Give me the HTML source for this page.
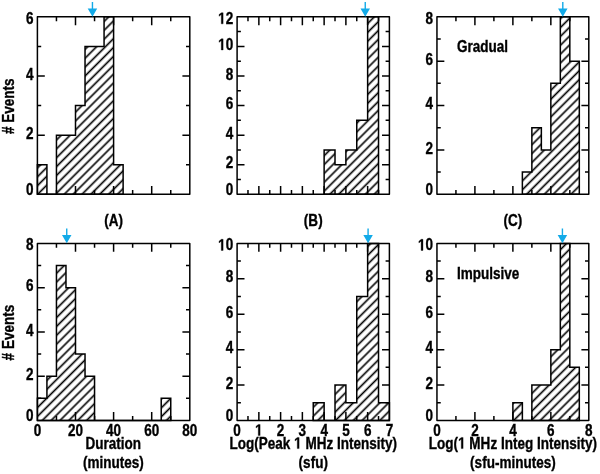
<!DOCTYPE html>
<html><head><meta charset="utf-8"><style>
html,body{margin:0;padding:0;background:#fff;width:600px;height:474px;overflow:hidden}
svg{display:block}
text{font-family:"Liberation Sans",sans-serif;font-weight:bold;fill:#000;stroke:#000;stroke-width:0.35px}
svg{will-change:transform}
.o{fill:transparent;stroke:transparent}
</style></head><body>
<svg width="600" height="474" viewBox="0 0 600 474">
<defs><pattern id="hA" patternUnits="userSpaceOnUse" width="6.27" height="10" patternTransform="rotate(45) translate(-2.15,0)"><line x1="3.14" y1="-1" x2="3.14" y2="11" stroke="#000" stroke-width="1.65"/></pattern><pattern id="hB" patternUnits="userSpaceOnUse" width="6.27" height="10" patternTransform="rotate(45) translate(-2.43,0)"><line x1="3.14" y1="-1" x2="3.14" y2="11" stroke="#000" stroke-width="1.65"/></pattern><pattern id="hC" patternUnits="userSpaceOnUse" width="6.27" height="10" patternTransform="rotate(45) translate(-1.23,0)"><line x1="3.14" y1="-1" x2="3.14" y2="11" stroke="#000" stroke-width="1.65"/></pattern><pattern id="hD" patternUnits="userSpaceOnUse" width="6.27" height="10" patternTransform="rotate(45) translate(-1.97,0)"><line x1="3.14" y1="-1" x2="3.14" y2="11" stroke="#000" stroke-width="1.65"/></pattern><pattern id="hE" patternUnits="userSpaceOnUse" width="6.27" height="10" patternTransform="rotate(45) translate(-1.51,0)"><line x1="3.14" y1="-1" x2="3.14" y2="11" stroke="#000" stroke-width="1.65"/></pattern><pattern id="hF" patternUnits="userSpaceOnUse" width="6.27" height="10" patternTransform="rotate(45) translate(-0.94,0)"><line x1="3.14" y1="-1" x2="3.14" y2="11" stroke="#000" stroke-width="1.65"/></pattern></defs>
<rect width="600" height="474" fill="#fff"/>
<path d="M37.4,194.3 L37.4,164.72 L46.92,164.72 L46.92,194.3 L56.45,194.3 L56.45,135.13 L65.97,135.13 L65.97,135.13 L75.5,135.13 L75.5,105.55 L85.03,105.55 L85.03,46.38 L94.55,46.38 L94.55,46.38 L104.07,46.38 L104.07,16.8 L113.6,16.8 L113.6,164.72 L123.12,164.72 L123.12,194.3 Z" fill="url(#hA)" stroke="none"/>
<path d="M37.4,194.3 L37.4,164.72 L46.92,164.72 L46.92,194.3 L56.45,194.3 L56.45,135.13 L65.97,135.13 L65.97,135.13 L75.5,135.13 L75.5,105.55 L85.03,105.55 L85.03,46.38 L94.55,46.38 L94.55,46.38 L104.07,46.38 L104.07,16.8 L113.6,16.8 L113.6,164.72 L123.12,164.72 L123.12,194.3 Z" fill="none" stroke="#000" stroke-width="1.5" stroke-linejoin="miter"/>
<path d="M56.45,194.3v-4.4M56.45,16.8v4.4M75.5,194.3v-8.4M75.5,16.8v8.4M94.55,194.3v-4.4M94.55,16.8v4.4M113.6,194.3v-8.4M113.6,16.8v8.4M132.65,194.3v-4.4M132.65,16.8v4.4M151.7,194.3v-8.4M151.7,16.8v8.4M170.75,194.3v-4.4M170.75,16.8v4.4M37.4,164.72h3.8M189.8,164.72h-3.8M37.4,135.13h7.4M189.8,135.13h-7.4M37.4,105.55h3.8M189.8,105.55h-3.8M37.4,75.97h7.4M189.8,75.97h-7.4M37.4,46.38h3.8M189.8,46.38h-3.8" stroke="#000" stroke-width="1.5" fill="none"/>
<rect x="37.4" y="16.8" width="152.4" height="177.5" fill="none" stroke="#000" stroke-width="1.5" stroke-linejoin="round"/>
<g transform="translate(33.45,194.77) scale(0.835,1)"><text id="t1" text-anchor="end" font-size="16.2">0</text></g>
<g transform="translate(33.45,138.71) scale(0.835,1)"><text id="t2" text-anchor="end" font-size="16.2">2</text></g>
<g transform="translate(33.45,79.54) scale(0.835,1)"><text id="t3" text-anchor="end" font-size="16.2">4</text></g>
<g transform="translate(33.45,23.87) scale(0.835,1)"><text id="t4" text-anchor="end" font-size="16.2">6</text></g>
<path d="M91.75,2h1.4v6.4h4.05l-4.75,8.3l-4.75,-8.3h4.05z" fill="#12aae8"/>
<path d="M324.13,194.3 L324.13,149.93 L335.01,149.93 L335.01,164.72 L345.89,164.72 L345.89,149.93 L356.76,149.93 L356.76,120.34 L367.64,120.34 L367.64,16.8 L378.52,16.8 L378.52,194.3 Z" fill="url(#hB)" stroke="none"/>
<path d="M324.13,194.3 L324.13,149.93 L335.01,149.93 L335.01,164.72 L345.89,164.72 L345.89,149.93 L356.76,149.93 L356.76,120.34 L367.64,120.34 L367.64,16.8 L378.52,16.8 L378.52,194.3 Z" fill="none" stroke="#000" stroke-width="1.5" stroke-linejoin="miter"/>
<path d="M247.98,194.3v-4.4M247.98,16.8v4.4M258.86,194.3v-8.4M258.86,16.8v8.4M269.74,194.3v-4.4M269.74,16.8v4.4M280.61,194.3v-8.4M280.61,16.8v8.4M291.49,194.3v-4.4M291.49,16.8v4.4M302.37,194.3v-8.4M302.37,16.8v8.4M313.25,194.3v-4.4M313.25,16.8v4.4M324.13,194.3v-8.4M324.13,16.8v8.4M335.01,194.3v-4.4M335.01,16.8v4.4M345.89,194.3v-8.4M345.89,16.8v8.4M356.76,194.3v-4.4M356.76,16.8v4.4M367.64,194.3v-8.4M367.64,16.8v8.4M378.52,194.3v-4.4M378.52,16.8v4.4M237.1,179.51h3.8M389.4,179.51h-3.8M237.1,164.72h7.4M389.4,164.72h-7.4M237.1,149.93h3.8M389.4,149.93h-3.8M237.1,135.13h7.4M389.4,135.13h-7.4M237.1,120.34h3.8M389.4,120.34h-3.8M237.1,105.55h7.4M389.4,105.55h-7.4M237.1,90.76h3.8M389.4,90.76h-3.8M237.1,75.97h7.4M389.4,75.97h-7.4M237.1,61.18h3.8M389.4,61.18h-3.8M237.1,46.38h7.4M389.4,46.38h-7.4M237.1,31.59h3.8M389.4,31.59h-3.8" stroke="#000" stroke-width="1.5" fill="none"/>
<rect x="237.1" y="16.8" width="152.3" height="177.5" fill="none" stroke="#000" stroke-width="1.5" stroke-linejoin="round"/>
<g transform="translate(233.15,194.77) scale(0.835,1)"><text id="t5" text-anchor="end" font-size="16.2">0</text></g>
<g transform="translate(233.15,168.29) scale(0.835,1)"><text id="t6" text-anchor="end" font-size="16.2">2</text></g>
<g transform="translate(233.15,138.71) scale(0.835,1)"><text id="t7" text-anchor="end" font-size="16.2">4</text></g>
<g transform="translate(233.15,109.12) scale(0.835,1)"><text id="t8" text-anchor="end" font-size="16.2">6</text></g>
<g transform="translate(233.15,79.54) scale(0.835,1)"><text id="t9" text-anchor="end" font-size="16.2">8</text></g>
<g transform="translate(233.15,49.96) scale(0.835,1)"><text id="t10" text-anchor="end" font-size="16.2"><tspan class="o">1</tspan>0</text><path transform="translate(-18.013,0) scale(0.007910,-0.007910)" d="M478 0V1170L140 959V1180L493 1409H759V0Z" fill="#000" stroke="#000" stroke-width="44.25"/></g>
<g transform="translate(233.15,23.87) scale(0.835,1)"><text id="t11" text-anchor="end" font-size="16.2"><tspan class="o">1</tspan>2</text><path transform="translate(-18.013,0) scale(0.007910,-0.007910)" d="M478 0V1170L140 959V1180L493 1409H759V0Z" fill="#000" stroke="#000" stroke-width="44.25"/></g>
<path d="M364.55,2h1.4v6.4h4.05l-4.75,8.3l-4.75,-8.3h4.05z" fill="#12aae8"/>
<path d="M522.37,194.3 L522.37,172.11 L531.86,172.11 L531.86,127.74 L541.35,127.74 L541.35,149.93 L550.84,149.93 L550.84,83.36 L560.33,83.36 L560.33,16.8 L569.82,16.8 L569.82,61.18 L579.31,61.18 L579.31,194.3 Z" fill="url(#hC)" stroke="none"/>
<path d="M522.37,194.3 L522.37,172.11 L531.86,172.11 L531.86,127.74 L541.35,127.74 L541.35,149.93 L550.84,149.93 L550.84,83.36 L560.33,83.36 L560.33,16.8 L569.82,16.8 L569.82,61.18 L579.31,61.18 L579.31,194.3 Z" fill="none" stroke="#000" stroke-width="1.5" stroke-linejoin="miter"/>
<path d="M455.93,194.3v-4.4M455.93,16.8v4.4M474.91,194.3v-8.4M474.91,16.8v8.4M493.89,194.3v-4.4M493.89,16.8v4.4M512.88,194.3v-8.4M512.88,16.8v8.4M531.86,194.3v-4.4M531.86,16.8v4.4M550.84,194.3v-8.4M550.84,16.8v8.4M569.82,194.3v-4.4M569.82,16.8v4.4M436.95,172.11h3.8M588.8,172.11h-3.8M436.95,149.93h7.4M588.8,149.93h-7.4M436.95,127.74h3.8M588.8,127.74h-3.8M436.95,105.55h7.4M588.8,105.55h-7.4M436.95,83.36h3.8M588.8,83.36h-3.8M436.95,61.18h7.4M588.8,61.18h-7.4M436.95,38.99h3.8M588.8,38.99h-3.8" stroke="#000" stroke-width="1.5" fill="none"/>
<rect x="436.95" y="16.8" width="151.85" height="177.5" fill="none" stroke="#000" stroke-width="1.5" stroke-linejoin="round"/>
<g transform="translate(433,194.77) scale(0.835,1)"><text id="t12" text-anchor="end" font-size="16.2">0</text></g>
<g transform="translate(433,153.5) scale(0.835,1)"><text id="t13" text-anchor="end" font-size="16.2">2</text></g>
<g transform="translate(433,109.12) scale(0.835,1)"><text id="t14" text-anchor="end" font-size="16.2">4</text></g>
<g transform="translate(433,64.75) scale(0.835,1)"><text id="t15" text-anchor="end" font-size="16.2">6</text></g>
<g transform="translate(433,23.87) scale(0.835,1)"><text id="t16" text-anchor="end" font-size="16.2">8</text></g>
<path d="M562.1,2h1.4v6.4h4.05l-4.75,8.3l-4.75,-8.3h4.05z" fill="#12aae8"/>
<path d="M37.4,420.5 L37.4,398.36 L46.92,398.36 L46.92,376.23 L56.45,376.23 L56.45,265.54 L65.97,265.54 L65.97,287.68 L75.5,287.68 L75.5,354.09 L85.03,354.09 L85.03,376.23 L94.55,376.23 L94.55,420.5 L104.07,420.5 L104.07,420.5 L113.6,420.5 L113.6,420.5 L123.12,420.5 L123.12,420.5 L132.65,420.5 L132.65,420.5 L142.18,420.5 L142.18,420.5 L151.7,420.5 L151.7,420.5 L161.22,420.5 L161.22,398.36 L170.75,398.36 L170.75,420.5 Z" fill="url(#hD)" stroke="none"/>
<path d="M37.4,420.5 L37.4,398.36 L46.92,398.36 L46.92,376.23 L56.45,376.23 L56.45,265.54 L65.97,265.54 L65.97,287.68 L75.5,287.68 L75.5,354.09 L85.03,354.09 L85.03,376.23 L94.55,376.23 L94.55,420.5 L104.07,420.5 L104.07,420.5 L113.6,420.5 L113.6,420.5 L123.12,420.5 L123.12,420.5 L132.65,420.5 L132.65,420.5 L142.18,420.5 L142.18,420.5 L151.7,420.5 L151.7,420.5 L161.22,420.5 L161.22,398.36 L170.75,398.36 L170.75,420.5 Z" fill="none" stroke="#000" stroke-width="1.5" stroke-linejoin="miter"/>
<path d="M56.45,420.5v-4.4M56.45,243.4v4.4M75.5,420.5v-8.4M75.5,243.4v8.4M94.55,420.5v-4.4M94.55,243.4v4.4M113.6,420.5v-8.4M113.6,243.4v8.4M132.65,420.5v-4.4M132.65,243.4v4.4M151.7,420.5v-8.4M151.7,243.4v8.4M170.75,420.5v-4.4M170.75,243.4v4.4M37.4,398.36h3.8M189.8,398.36h-3.8M37.4,376.23h7.4M189.8,376.23h-7.4M37.4,354.09h3.8M189.8,354.09h-3.8M37.4,331.95h7.4M189.8,331.95h-7.4M37.4,309.81h3.8M189.8,309.81h-3.8M37.4,287.68h7.4M189.8,287.68h-7.4M37.4,265.54h3.8M189.8,265.54h-3.8" stroke="#000" stroke-width="1.5" fill="none"/>
<rect x="37.4" y="243.4" width="152.4" height="177.1" fill="none" stroke="#000" stroke-width="1.5" stroke-linejoin="round"/>
<g transform="translate(33.45,420.97) scale(0.835,1)"><text id="t17" text-anchor="end" font-size="16.2">0</text></g>
<g transform="translate(33.45,379.8) scale(0.835,1)"><text id="t18" text-anchor="end" font-size="16.2">2</text></g>
<g transform="translate(33.45,335.52) scale(0.835,1)"><text id="t19" text-anchor="end" font-size="16.2">4</text></g>
<g transform="translate(33.45,291.25) scale(0.835,1)"><text id="t20" text-anchor="end" font-size="16.2">6</text></g>
<g transform="translate(33.45,250.47) scale(0.835,1)"><text id="t21" text-anchor="end" font-size="16.2">8</text></g>
<g transform="translate(37.4,435.6) scale(0.835,1)"><text id="t22" text-anchor="middle" font-size="16.2">0</text></g>
<g transform="translate(75.5,435.6) scale(0.835,1)"><text id="t23" text-anchor="middle" font-size="16.2">20</text></g>
<g transform="translate(113.6,435.6) scale(0.835,1)"><text id="t24" text-anchor="middle" font-size="16.2">40</text></g>
<g transform="translate(151.7,435.6) scale(0.835,1)"><text id="t25" text-anchor="middle" font-size="16.2">60</text></g>
<g transform="translate(189.8,435.6) scale(0.835,1)"><text id="t26" text-anchor="middle" font-size="16.2">80</text></g>
<path d="M66.04,228.6h1.4v6.4h4.05l-4.75,8.3l-4.75,-8.3h4.05z" fill="#12aae8"/>
<path d="M313.25,420.5 L313.25,402.79 L324.13,402.79 L324.13,420.5 L335.01,420.5 L335.01,385.08 L345.89,385.08 L345.89,402.79 L356.76,402.79 L356.76,296.53 L367.64,296.53 L367.64,243.4 L378.52,243.4 L378.52,402.79 L389.4,402.79 L389.4,420.5 Z" fill="url(#hE)" stroke="none"/>
<path d="M313.25,420.5 L313.25,402.79 L324.13,402.79 L324.13,420.5 L335.01,420.5 L335.01,385.08 L345.89,385.08 L345.89,402.79 L356.76,402.79 L356.76,296.53 L367.64,296.53 L367.64,243.4 L378.52,243.4 L378.52,402.79 L389.4,402.79 L389.4,420.5 Z" fill="none" stroke="#000" stroke-width="1.5" stroke-linejoin="miter"/>
<path d="M247.98,420.5v-4.4M247.98,243.4v4.4M258.86,420.5v-8.4M258.86,243.4v8.4M269.74,420.5v-4.4M269.74,243.4v4.4M280.61,420.5v-8.4M280.61,243.4v8.4M291.49,420.5v-4.4M291.49,243.4v4.4M302.37,420.5v-8.4M302.37,243.4v8.4M313.25,420.5v-4.4M313.25,243.4v4.4M324.13,420.5v-8.4M324.13,243.4v8.4M335.01,420.5v-4.4M335.01,243.4v4.4M345.89,420.5v-8.4M345.89,243.4v8.4M356.76,420.5v-4.4M356.76,243.4v4.4M367.64,420.5v-8.4M367.64,243.4v8.4M378.52,420.5v-4.4M378.52,243.4v4.4M237.1,402.79h3.8M389.4,402.79h-3.8M237.1,385.08h7.4M389.4,385.08h-7.4M237.1,367.37h3.8M389.4,367.37h-3.8M237.1,349.66h7.4M389.4,349.66h-7.4M237.1,331.95h3.8M389.4,331.95h-3.8M237.1,314.24h7.4M389.4,314.24h-7.4M237.1,296.53h3.8M389.4,296.53h-3.8M237.1,278.82h7.4M389.4,278.82h-7.4M237.1,261.11h3.8M389.4,261.11h-3.8" stroke="#000" stroke-width="1.5" fill="none"/>
<rect x="237.1" y="243.4" width="152.3" height="177.1" fill="none" stroke="#000" stroke-width="1.5" stroke-linejoin="round"/>
<g transform="translate(233.15,420.97) scale(0.835,1)"><text id="t27" text-anchor="end" font-size="16.2">0</text></g>
<g transform="translate(233.15,388.65) scale(0.835,1)"><text id="t28" text-anchor="end" font-size="16.2">2</text></g>
<g transform="translate(233.15,353.23) scale(0.835,1)"><text id="t29" text-anchor="end" font-size="16.2">4</text></g>
<g transform="translate(233.15,317.81) scale(0.835,1)"><text id="t30" text-anchor="end" font-size="16.2">6</text></g>
<g transform="translate(233.15,282.39) scale(0.835,1)"><text id="t31" text-anchor="end" font-size="16.2">8</text></g>
<g transform="translate(233.15,250.47) scale(0.835,1)"><text id="t32" text-anchor="end" font-size="16.2"><tspan class="o">1</tspan>0</text><path transform="translate(-18.013,0) scale(0.007910,-0.007910)" d="M478 0V1170L140 959V1180L493 1409H759V0Z" fill="#000" stroke="#000" stroke-width="44.25"/></g>
<g transform="translate(237.1,435.6) scale(0.835,1)"><text id="t33" text-anchor="middle" font-size="16.2">0</text></g>
<g transform="translate(258.86,435.6) scale(0.835,1)"><text id="t34" text-anchor="middle" font-size="16.2"><tspan class="o">1</tspan></text><path transform="translate(-4.503,0) scale(0.007910,-0.007910)" d="M478 0V1170L140 959V1180L493 1409H759V0Z" fill="#000" stroke="#000" stroke-width="44.25"/></g>
<g transform="translate(280.61,435.6) scale(0.835,1)"><text id="t35" text-anchor="middle" font-size="16.2">2</text></g>
<g transform="translate(302.37,435.6) scale(0.835,1)"><text id="t36" text-anchor="middle" font-size="16.2">3</text></g>
<g transform="translate(324.13,435.6) scale(0.835,1)"><text id="t37" text-anchor="middle" font-size="16.2">4</text></g>
<g transform="translate(345.89,435.6) scale(0.835,1)"><text id="t38" text-anchor="middle" font-size="16.2">5</text></g>
<g transform="translate(367.64,435.6) scale(0.835,1)"><text id="t39" text-anchor="middle" font-size="16.2">6</text></g>
<g transform="translate(389.4,435.6) scale(0.835,1)"><text id="t40" text-anchor="middle" font-size="16.2">7</text></g>
<path d="M367.38,228.6h1.4v6.4h4.05l-4.75,8.3l-4.75,-8.3h4.05z" fill="#12aae8"/>
<path d="M512.88,420.5 L512.88,402.79 L522.37,402.79 L522.37,420.5 L531.86,420.5 L531.86,385.08 L541.35,385.08 L541.35,385.08 L550.84,385.08 L550.84,349.66 L560.33,349.66 L560.33,243.4 L569.82,243.4 L569.82,367.37 L579.31,367.37 L579.31,420.5 Z" fill="url(#hF)" stroke="none"/>
<path d="M512.88,420.5 L512.88,402.79 L522.37,402.79 L522.37,420.5 L531.86,420.5 L531.86,385.08 L541.35,385.08 L541.35,385.08 L550.84,385.08 L550.84,349.66 L560.33,349.66 L560.33,243.4 L569.82,243.4 L569.82,367.37 L579.31,367.37 L579.31,420.5 Z" fill="none" stroke="#000" stroke-width="1.5" stroke-linejoin="miter"/>
<path d="M455.93,420.5v-4.4M455.93,243.4v4.4M474.91,420.5v-8.4M474.91,243.4v8.4M493.89,420.5v-4.4M493.89,243.4v4.4M512.88,420.5v-8.4M512.88,243.4v8.4M531.86,420.5v-4.4M531.86,243.4v4.4M550.84,420.5v-8.4M550.84,243.4v8.4M569.82,420.5v-4.4M569.82,243.4v4.4M436.95,402.79h3.8M588.8,402.79h-3.8M436.95,385.08h7.4M588.8,385.08h-7.4M436.95,367.37h3.8M588.8,367.37h-3.8M436.95,349.66h7.4M588.8,349.66h-7.4M436.95,331.95h3.8M588.8,331.95h-3.8M436.95,314.24h7.4M588.8,314.24h-7.4M436.95,296.53h3.8M588.8,296.53h-3.8M436.95,278.82h7.4M588.8,278.82h-7.4M436.95,261.11h3.8M588.8,261.11h-3.8" stroke="#000" stroke-width="1.5" fill="none"/>
<rect x="436.95" y="243.4" width="151.85" height="177.1" fill="none" stroke="#000" stroke-width="1.5" stroke-linejoin="round"/>
<g transform="translate(433,420.97) scale(0.835,1)"><text id="t41" text-anchor="end" font-size="16.2">0</text></g>
<g transform="translate(433,388.65) scale(0.835,1)"><text id="t42" text-anchor="end" font-size="16.2">2</text></g>
<g transform="translate(433,353.23) scale(0.835,1)"><text id="t43" text-anchor="end" font-size="16.2">4</text></g>
<g transform="translate(433,317.81) scale(0.835,1)"><text id="t44" text-anchor="end" font-size="16.2">6</text></g>
<g transform="translate(433,282.39) scale(0.835,1)"><text id="t45" text-anchor="end" font-size="16.2">8</text></g>
<g transform="translate(433,250.47) scale(0.835,1)"><text id="t46" text-anchor="end" font-size="16.2"><tspan class="o">1</tspan>0</text><path transform="translate(-18.013,0) scale(0.007910,-0.007910)" d="M478 0V1170L140 959V1180L493 1409H759V0Z" fill="#000" stroke="#000" stroke-width="44.25"/></g>
<g transform="translate(436.95,435.6) scale(0.835,1)"><text id="t47" text-anchor="middle" font-size="16.2">0</text></g>
<g transform="translate(474.91,435.6) scale(0.835,1)"><text id="t48" text-anchor="middle" font-size="16.2">2</text></g>
<g transform="translate(512.88,435.6) scale(0.835,1)"><text id="t49" text-anchor="middle" font-size="16.2">4</text></g>
<g transform="translate(550.84,435.6) scale(0.835,1)"><text id="t50" text-anchor="middle" font-size="16.2">6</text></g>
<g transform="translate(588.8,435.6) scale(0.835,1)"><text id="t51" text-anchor="middle" font-size="16.2">8</text></g>
<path d="M561.72,228.6h1.4v6.4h4.05l-4.75,8.3l-4.75,-8.3h4.05z" fill="#12aae8"/>
<g transform="translate(113.6,226) scale(0.835,1)"><text id="t52" text-anchor="middle" font-size="16.2">(A)</text></g>
<g transform="translate(313.25,226) scale(0.835,1)"><text id="t53" text-anchor="middle" font-size="16.2">(B)</text></g>
<g transform="translate(512.9,226) scale(0.835,1)"><text id="t54" text-anchor="middle" font-size="16.2">(C)</text></g>
<g transform="translate(14.4,106.2) rotate(-90) scale(0.835,1)"><text id="t55" text-anchor="middle" font-size="16.2"># Events</text></g>
<g transform="translate(14.4,332.6) rotate(-90) scale(0.835,1)"><text id="t56" text-anchor="middle" font-size="16.2"># Events</text></g>
<g transform="translate(457,52.2) scale(0.835,1)"><text id="t57" text-anchor="start" font-size="16.2">Gradual</text></g>
<g transform="translate(457,278.5) scale(0.835,1)"><text id="t58" text-anchor="start" font-size="16.2">Impulsive</text></g>
<g transform="translate(113.3,448.6) scale(0.835,1)"><text id="t59" text-anchor="middle" font-size="16.2">Duration</text></g>
<g transform="translate(113.3,467.9) scale(0.835,1)"><text id="t60" text-anchor="middle" font-size="16.2">(minutes)</text></g>
<g transform="translate(313.25,448.6) scale(0.835,1)"><text id="t61" text-anchor="middle" font-size="16.2">Log(Peak <tspan class="o">1</tspan> MHz Intensity)</text><path transform="translate(-22.932,0) scale(0.007910,-0.007910)" d="M478 0V1170L140 959V1180L493 1409H759V0Z" fill="#000" stroke="#000" stroke-width="44.25"/></g>
<g transform="translate(313.25,467.9) scale(0.835,1)"><text id="t62" text-anchor="middle" font-size="16.2">(sfu)</text></g>
<g transform="translate(512.9,448.6) scale(0.835,1)"><text id="t63" text-anchor="middle" font-size="16.2">Log(<tspan class="o">1</tspan> MHz Integ Intensity)</text><path transform="translate(-65.641,0) scale(0.007910,-0.007910)" d="M478 0V1170L140 959V1180L493 1409H759V0Z" fill="#000" stroke="#000" stroke-width="44.25"/></g>
<g transform="translate(512.9,467.9) scale(0.835,1)"><text id="t64" text-anchor="middle" font-size="16.2">(sfu-minutes)</text></g>
</svg>
</body></html>
